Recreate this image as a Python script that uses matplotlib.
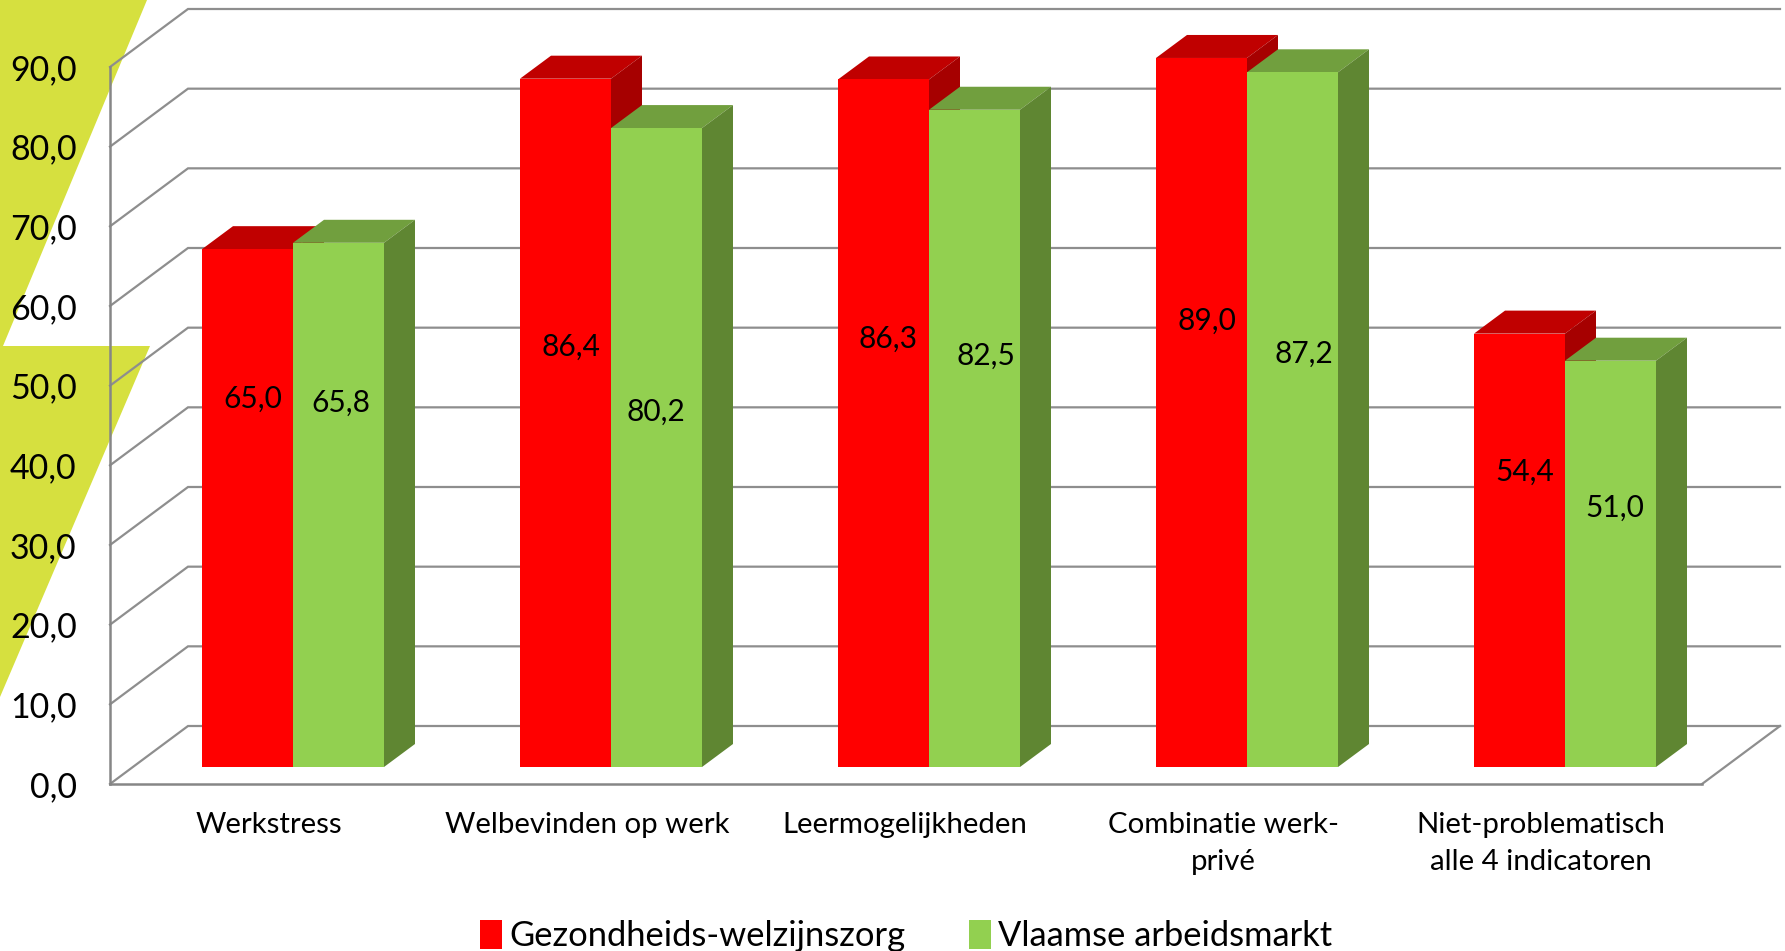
import matplotlib
matplotlib.use("Agg")
import matplotlib.pyplot as plt
from matplotlib.patches import Polygon

# data
categories = ["Werkstress", "Welbevinden op werk", "Leermogelijkheden",
              "Combinatie werk-\nprivé", "Niet-problematisch\nalle 4 indicatoren"]
zorg = [65.0, 86.4, 86.3, 89.0, 54.4]
vlaams = [65.8, 80.2, 82.5, 87.2, 51.0]
y_ticks = [0, 10, 20, 30, 40, 50, 60, 70, 80, 90]

# where the value labels sit relative to the bar tops, in pixels
zorg_label_drop = [150, 268, 259, 263, 138]
vlaams_label_drop = [160, 284, 246, 281, 147]
zorg_label_shift = [5, 5, 5, 5, 5]
vlaams_label_shift = [2, -1, 11, 11, 4]

W, H = 1785, 951
plt.rcParams["font.family"] = ["Lato", "DejaVu Sans"]

fig = plt.figure(figsize=(W / 100, H / 100), dpi=100)
ax = fig.add_axes([110 / W, (H - 784) / H, 1592 / W, 717 / H])
X_MAX = 1592 / 318
ax.set_xlim(0, X_MAX)
ax.set_ylim(0, 90)
ax.patch.set_alpha(0)

GRID = "#8e8e8e"
BAR_W = 91 / 318
BAR_X0 = 92 / 318
BASE = 17 / 7.967
DX, DY = 31 / 318, 23 / 7.967         # bar depth
WALL_X, WALL_Y = 78 / 318, 58 / 7.967  # back wall offset


def px(points):
    return [(x / W, 1 - y / H) for x, y in points]


# yellow shapes behind the y labels
for shape in ([(0, 0), (147, 0), (3, 346), (0, 346)],
              [(0, 346), (150, 346), (0, 697)]):
    fig.add_artist(Polygon(px(shape), closed=True, transform=fig.transFigure,
                           facecolor="#D6E03F", edgecolor="none", zorder=-5))

# wall and floor lines
for t in y_ticks:
    ax.plot([0, WALL_X, X_MAX + WALL_X], [t, t + WALL_Y, t + WALL_Y], color=GRID,
            lw=1.6, clip_on=False, zorder=1, solid_joinstyle="miter")
ax.plot([X_MAX, X_MAX + WALL_X], [0, WALL_Y], color=GRID, lw=1.6, clip_on=False, zorder=1)


def draw_bars(values, offset, front, top_c, side_c, z, label):
    xs = [i + BAR_X0 + offset for i in range(len(values))]
    bars = ax.bar(xs, values, BAR_W, bottom=BASE, align="edge", color=front,
                  zorder=z + 0.2, label=label, clip_on=False)
    for x, v in zip(xs, values):
        top = BASE + v
        ax.add_patch(Polygon([(x, top), (x + BAR_W, top), (x + BAR_W + DX, top + DY), (x + DX, top + DY)],
                             facecolor=top_c, edgecolor="none", zorder=z, clip_on=False))
        ax.add_patch(Polygon([(x + BAR_W, BASE), (x + BAR_W + DX, BASE + DY), (x + BAR_W + DX, top + DY), (x + BAR_W, top)],
                             facecolor=side_c, edgecolor="none", zorder=z, clip_on=False))
    return bars, xs


bars1, xs1 = draw_bars(zorg, 0, "#FF0000", "#C00000", "#A60000", 2, "Gezondheids-welzijnszorg")
bars2, xs2 = draw_bars(vlaams, BAR_W, "#92D050", "#719F3E", "#5F8632", 3, "Vlaamse arbeidsmarkt")

# value labels
for xs, values, drops, shifts in ((xs1, zorg, zorg_label_drop, zorg_label_shift),
                                  (xs2, vlaams, vlaams_label_drop, vlaams_label_shift)):
    for x, v, d, s in zip(xs, values, drops, shifts):
        ax.annotate(f"{v:.1f}".replace(".", ","), (x + BAR_W / 2, BASE + v),
                    xytext=(s, -d), textcoords="offset pixels", annotation_clip=False,
                    ha="center", va="center", fontsize=21.5, color="black", zorder=6)

# axes
for s in ("top", "right"):
    ax.spines[s].set_visible(False)
for s in ("left", "bottom"):
    ax.spines[s].set_color("#868686")
    ax.spines[s].set_linewidth(1.8)
    ax.spines[s].set_zorder(1.5)

ax.set_yticks(y_ticks)
ax.set_yticklabels([f"{t:.1f}".replace(".", ",") for t in y_ticks], fontsize=24.5)
ax.set_xticks([i + 0.5 for i in range(len(categories))])
ax.set_xticklabels(categories, fontsize=21.2, linespacing=1.5)
ax.tick_params(axis="y", length=0, pad=24)
ax.tick_params(axis="x", length=0, pad=20.5)

fig.legend(handles=[bars1, bars2], loc="center", bbox_to_anchor=(906 / W, 1 - 936 / H),
           ncol=2, frameon=False, fontsize=24.8, handlelength=0.64, handleheight=0.9,
           handletextpad=0.2, columnspacing=1.85, borderpad=0)

plt.savefig("out.png", dpi=100)
plt.close()
